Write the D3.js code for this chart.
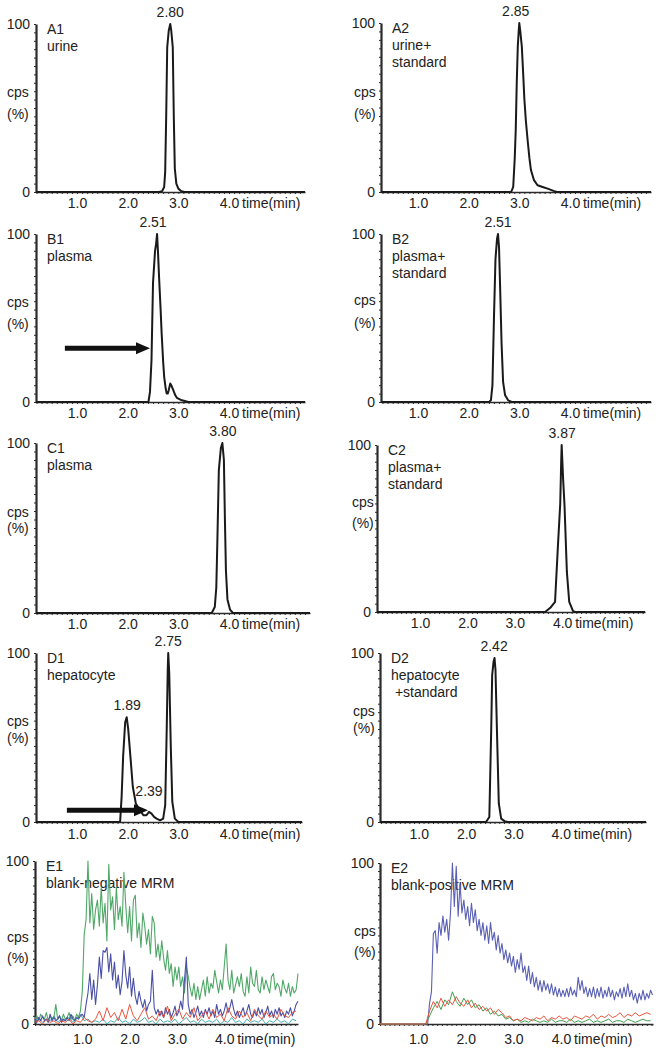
<!DOCTYPE html>
<html>
<head>
<meta charset="utf-8">
<title>MRM chromatograms</title>
<style>
body { margin: 0; background: #fff; }
svg { display: block; font-family: "Liberation Sans", Arial, sans-serif; }
.axis path, .axis line { fill: none; stroke: #2a2a2a; }
.axis text { font-size: 14px; fill: #222; }
.label { font-size: 14px; fill: #222; white-space: pre; }
</style>
</head>
<body>
<script src="https://cdn.jsdelivr.net/npm/d3@7/dist/d3.min.js"></script>
<script>
// peak traces, [time (min), cps %]
var a1Trace = [[0.19,0],[2.62,0],[2.68,0.5],[2.72,3],[2.74,12],[2.76,45],[2.78,86],[2.81,96],[2.84,100],[2.86,96],[2.89,86],[2.91,45],[2.93,14],[2.96,5],[3.0,2],[3.06,0.5],[3.12,0],[5.5,0]];
var a2Trace = [[0.27,0],[2.84,0],[2.88,3],[2.91,20],[2.93,37],[2.95,65],[2.97,86],[2.99,96],[3.0,100],[3.02,95],[3.05,86],[3.08,68],[3.10,55],[3.13,42],[3.17,29],[3.20,20],[3.23,13],[3.29,7],[3.36,4],[3.46,3],[3.56,2],[3.69,0.5],[3.75,0],[5.6,0]];
var b1Trace = [[0.19,0],[2.41,0],[2.44,6],[2.47,25],[2.50,71],[2.54,90],[2.56,94],[2.58,100],[2.60,88],[2.62,74],[2.65,55],[2.67,41],[2.70,24],[2.72,15],[2.75,8],[2.77,5],[2.79,5],[2.81,7],[2.84,11],[2.86,10],[2.90,7],[2.94,4],[2.97,2.5],[3.07,1],[3.2,0],[5.5,0]];
var b2Trace = [[0.27,0],[2.40,0],[2.44,1],[2.47,10],[2.50,50],[2.53,85],[2.56,97],[2.58,100],[2.60,92],[2.62,70],[2.65,35],[2.68,12],[2.72,4],[2.78,1],[2.85,0],[5.6,0]];
var c1Trace = [[0.19,0],[3.66,0],[3.72,3.5],[3.75,15],[3.77,41],[3.80,84],[3.84,97],[3.87,100],[3.90,90],[3.92,55],[3.94,25],[3.97,8],[4.02,2],[4.08,0],[5.6,0]];
var c2Trace = [[0.09,0],[3.64,0],[3.75,2.5],[3.85,6],[3.91,39],[3.96,65],[3.98,90],[3.99,100],[4.02,80],[4.05,64],[4.10,24],[4.15,6],[4.23,0.5],[4.28,0],[5.75,0]];
var d1Trace = [[0.19,0],[1.85,0],[1.88,15],[1.91,39],[1.95,59],[1.98,62],[2.01,55],[2.05,40],[2.10,21],[2.16,11],[2.24,7],[2.31,4],[2.37,4],[2.42,6],[2.47,5],[2.52,3],[2.57,2],[2.64,1],[2.70,2],[2.74,10],[2.77,55],[2.79,90],[2.80,100],[2.82,88],[2.85,45],[2.88,12],[2.93,2],[3.0,0],[5.44,0]];
var d2Trace = [[0.18,0],[2.42,0],[2.49,3],[2.53,55],[2.55,87],[2.58,95],[2.60,97],[2.62,90],[2.65,55],[2.69,11],[2.74,2],[2.81,0.5],[2.88,0],[5.8,0]];

// peak labels: [text, time, cps %]
var a1Peaks = [["2.80", 2.84, 100]];
var a2Peaks = [["2.85", 2.93, 100]];
var b1Peaks = [["2.51", 2.50, 100]];
var b2Peaks = [["2.51", 2.58, 100]];
var c1Peaks = [["3.80", 3.88, 100]];
var c2Peaks = [["3.87", 4.0, 100]];
var d1Peaks = [["1.89", 1.99, 62], ["2.39", 2.42, 11], ["2.75", 2.80, 100]];
var d2Peaks = [["2.42", 2.59, 97]];

// arrows: [from time, to time, cps %]
var b1Arrows = [[0.76, 2.44, 32]];
var d1Arrows = [[0.80, 2.40, 7]];

// blank MRM traces, sampled at a fixed step from a start time
var e1Start = 0, e1Step = 0.04, e1StepCoarse = 0.08;
var e1Green = [3,5,2,6,4,3,7,2,5,3,4,12,3,5,2,6,3,4,7,3,5,2,6,4,8,
  20,55,64,100,62,80,58,70,76,60,84,62,74,51,98,70,78,58,84,64,72,60,93,72,56,
  72,51,76,79,53,62,47,68,60,49,58,43,66,62,41,49,39,51,40,33,45,31,37,23,35,
  27,35,23,29,19,35,29,22,17,25,15,23,15,21,27,17,29,19,25,22,33,26,19,27,21,
  35,49,27,21,33,19,24,29,23,31,20,17,29,19,35,25,23,33,21,19,29,21,27,23,19,
  29,31,21,25,23,17,27,22,19,25,17,23,19,21,31];
var e1Blue = [3,1,4,2,5,2,3,1,6,2,4,2,3,5,1,3,2,4,2,6,3,2,4,3,5,
  6,4,12,19,31,15,27,12,24,41,28,45,44,47,32,43,27,38,22,30,18,26,45,30,22,
  35,17,28,17,12,20,14,10,15,8,12,14,33,10,6,9,5,8,4,10,6,9,4,7,11,
  5,8,14,9,27,41,12,6,9,4,7,11,5,8,4,9,6,10,5,8,4,12,6,9,5,
  8,13,7,10,15,9,5,8,4,7,10,5,8,12,6,4,8,5,10,6,9,4,7,11,5,
  8,4,9,6,10,5,7,4,8,6,10,5,8,12,14];
var e1Red = [1,2,0,3,1,2,0,2,1,3,0,2,1,4,2,1,
  3,8,2,10,4,7,2,9,3,12,5,2,6,10,3,5,2,8,4,11,2,6,9,3,7,4,10,2,5,8,
  3,9,4,6,2,10,5,3,8,4,7,2,9,5,3,8,4,6,3,9,5,4,7,8];
var e1Teal = [2,4,1,3,2,5,1,3,2,4,1,3,6,2,3,1,2,1,3,0,2,1,4,1,2,0,3,1,2,4,
  1,2,0,3,1,2,1,3,0,2,4,1,2,0,3,1,2,1,3,0,2,1,4,1,2,0,3,1,2,1,3,0,2,1,3,1,2,0,3,2];

var e2Start = 0.2, e2Step = 0.04, e2StepCoarse = 0.08;
var e2Blue = [0,0,0,0,0,0,0,0,0,0,0,0,0,0,0,0,0,0,0,0,0,0,0,0,0,0,
  13,20,56,58,44,63,55,67,57,65,52,69,100,73,98,67,87,69,77,65,
  73,61,75,63,71,58,65,55,63,52,61,50,63,52,57,46,55,44,50,40,
  46,38,44,36,42,32,40,34,44,32,36,27,36,25,32,23,29,21,27,20,
  27,21,25,19,25,18,23,17,22,17,21,17,22,17,23,18,21,17,29,21,
  27,19,23,17,22,17,23,16,22,17,23,16,21,17,23,17,21,15,20,17,
  22,16,23,17,25,17,21,15,19,13,19,15,21,15,19,16,21,18];
var e2Green = [0,0,0,0,0,0,0,0,0,0,0,0,0,
  5,10,14,9,15,12,20,14,11,16,12,15,10,12,8,10,6,8,5,6,3,4,2,
  3,1,2,1,3,2,1,2,1,3,1,2,2,1,3,1,2,1,2,3,1,2,1,2,3,1,2,2,1,3,2,1,2,3,2,2];
var e2Red = [0,0,0,0,0,0,0,0,0,0,0,0,0,
  8,14,10,16,11,15,12,17,13,11,15,10,13,9,11,8,10,6,9,7,4,5,2,
  3,2,4,3,2,4,3,5,2,4,3,5,3,4,2,5,4,3,5,4,6,3,5,4,6,4,5,7,4,6,5,7,5,6,7,6];

var tickLabels = [1, 2, 3, 4];

function sampled(values, start, step) {
  return values.map(function(v, i) { return [start + i * step, v]; });
}

var black = "#1a1a1a";

var panels = [
  {title:["A1","urine"], x0:36, x1:305, dom:[0.19,5.5], top:24, zero:192, cps:[7,97,119], pad:6,
   series:[{d:a1Trace, c:black, w:2}], peaks:a1Peaks, arrows:[]},
  {title:["A2","urine+","standard"], x0:381, x1:651, dom:[0.27,5.6], top:23, zero:192, cps:[354,97,119], pad:6,
   series:[{d:a2Trace, c:black, w:2}], peaks:a2Peaks, arrows:[]},
  {title:["B1","plasma"], x0:36, x1:305, dom:[0.19,5.5], top:234, zero:402, cps:[7,307,329], pad:6,
   series:[{d:b1Trace, c:black, w:2}], peaks:b1Peaks, arrows:b1Arrows},
  {title:["B2","plasma+","standard"], x0:381, x1:651, dom:[0.27,5.6], top:234, zero:402, cps:[354,305,328], pad:6,
   series:[{d:b2Trace, c:black, w:2}], peaks:b2Peaks, arrows:[]},
  {title:["C1","plasma"], x0:36, x1:310, dom:[0.19,5.6], top:443, zero:613, cps:[7,517,533], pad:6,
   series:[{d:c1Trace, c:black, w:2}], peaks:c1Peaks, arrows:[]},
  {title:["C2","plasma+","standard"], x0:377, x1:645, dom:[0.09,5.75], top:445, zero:612, cps:[352,507,528], pad:6,
   series:[{d:c2Trace, c:black, w:2}], peaks:c2Peaks, arrows:[]},
  {title:["D1","hepatocyte"], x0:36, x1:302, dom:[0.19,5.44], top:653, zero:822, cps:[7,726,743], pad:7,
   series:[{d:d1Trace, c:black, w:2}], peaks:d1Peaks, arrows:d1Arrows},
  {title:["D2","hepatocyte"," +standard"], x0:380, x1:646, dom:[0.18,5.8], top:653, zero:822, cps:[353,716,733], pad:7,
   series:[{d:d2Trace, c:black, w:2}], peaks:d2Peaks, arrows:[]},
  {title:["E1","blank-negative MRM"], x0:35, x1:298, dom:[0,5.56], top:861, zero:1024, cps:[7,942,963], pad:10,
   series:[
     {d:sampled(e1Teal, e1Start, e1StepCoarse), c:"#45aeb0", w:1},
     {d:sampled(e1Green, e1Start, e1Step), c:"#4fa867", w:1.1},
     {d:sampled(e1Blue, e1Start, e1Step), c:"#4a50a6", w:1.1},
     {d:sampled(e1Red, e1Start, e1StepCoarse), c:"#e8553e", w:1}],
   peaks:[], arrows:[]},
  {title:["E2","blank-positive MRM"], x0:380, x1:653, dom:[0.2,5.93], top:863, zero:1024, cps:[354,936,957], pad:10,
   series:[
     {d:sampled(e2Blue, e2Start, e2Step), c:"#5a60b4", w:1.1},
     {d:sampled(e2Green, e2Start, e2StepCoarse), c:"#3f9e4f", w:1},
     {d:sampled(e2Red, e2Start, e2StepCoarse), c:"#e8553e", w:1}],
   peaks:[], arrows:[]}
];

var svg = d3.select("body").append("svg")
    .attr("width", 662)
    .attr("height", 1050);

panels.forEach(function(p) {
  var x = d3.scaleLinear().domain(p.dom).range([p.x0, p.x1]);
  var y = d3.scaleLinear().domain([0, 100]).range([p.zero, p.top]);
  var g = svg.append("g");

  // minor ticks along the time axis
  g.append("g")
      .attr("class", "axis")
      .attr("transform", "translate(0," + p.zero + ")")
      .call(d3.axisBottom(x)
        .tickValues(d3.range(Math.ceil(p.dom[0] * 10) / 10, p.dom[1], 0.1))
        .tickSize(2).tickSizeOuter(0).tickFormat(""))
      .select(".domain").attr("stroke-width", 1.6);

  g.append("g")
      .attr("class", "axis")
      .attr("transform", "translate(0," + p.zero + ")")
      .call(d3.axisBottom(x).tickValues(tickLabels).tickSize(0).tickPadding(p.pad)
        .tickFormat(d3.format(".1f")))
      .select(".domain").remove();

  g.append("text")
      .attr("class", "label")
      .attr("x", x(4) + 13)
      .attr("y", p.zero + p.pad + 10)
      .text("time(min)");

  g.append("g")
      .attr("class", "axis")
      .attr("transform", "translate(" + p.x0 + ",0)")
      .call(d3.axisLeft(y).tickValues(d3.range(0, 101, 5)).tickSize(2).tickSizeOuter(0).tickFormat(""))
      .select(".domain").attr("stroke-width", 2.2);

  g.append("g")
      .attr("class", "axis")
      .attr("transform", "translate(" + p.x0 + ",0)")
      .call(d3.axisLeft(y).tickValues([0, 100]).tickSize(0).tickPadding(6))
      .select(".domain").remove();

  g.append("text").attr("class", "label").attr("x", p.cps[0]).attr("y", p.cps[1]).text("cps");
  g.append("text").attr("class", "label").attr("x", p.cps[0]).attr("y", p.cps[2]).text("(%)");

  p.title.forEach(function(t, i) {
    g.append("text")
        .attr("class", "label")
        .attr("x", p.x0 + 11)
        .attr("y", p.top + 10 + i * 17)
        .text(t);
  });

  var line = d3.line()
      .x(function(d) { return x(d[0]); })
      .y(function(d) { return y(d[1]); });

  p.series.forEach(function(s) {
    g.append("path")
        .datum(s.d)
        .attr("fill", "none")
        .attr("stroke", s.c)
        .attr("stroke-width", s.w)
        .attr("stroke-linejoin", "round")
        .attr("d", line);
  });

  g.selectAll(".peak")
      .data(p.peaks)
    .enter().append("text")
      .attr("class", "label")
      .attr("x", function(d) { return x(d[1]); })
      .attr("y", function(d) { return y(d[2]) - 7; })
      .style("text-anchor", "middle")
      .text(function(d) { return d[0]; });

  p.arrows.forEach(function(a) {
    var xs = x(a[0]), xe = x(a[1]), ya = y(a[2]);
    g.append("line")
        .attr("x1", xs).attr("x2", xe - 12)
        .attr("y1", ya).attr("y2", ya)
        .attr("stroke", "#111")
        .attr("stroke-width", 5);
    g.append("path")
        .attr("d", "M" + (xe - 14) + "," + (ya - 6) + "L" + xe + "," + ya + "L" + (xe - 14) + "," + (ya + 6) + "Z")
        .attr("fill", "#111");
  });
});
</script>
</body>
</html>
